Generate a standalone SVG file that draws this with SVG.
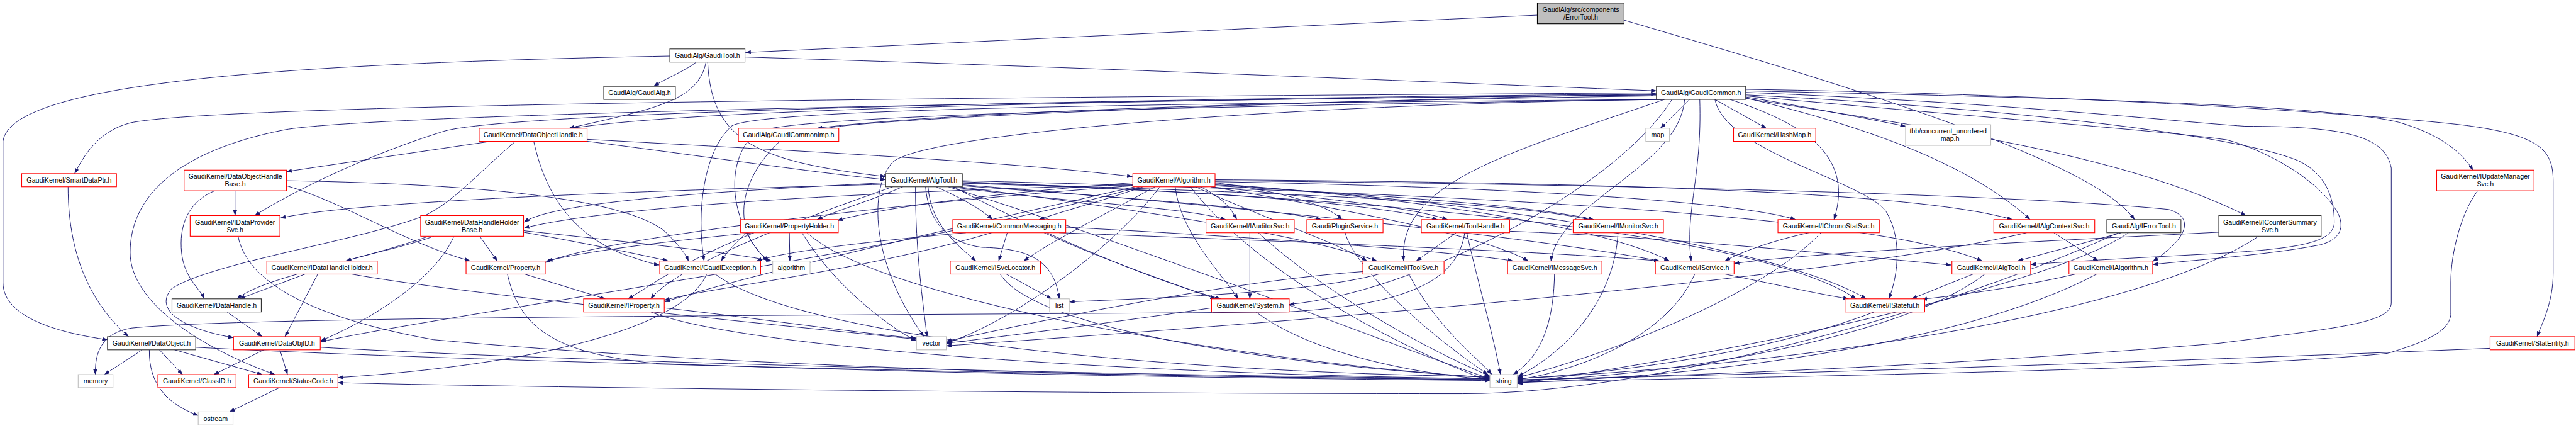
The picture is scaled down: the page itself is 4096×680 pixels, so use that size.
<svg xmlns="http://www.w3.org/2000/svg" width="4096" height="680" viewBox="0 0 4096 680">
<defs>
<marker id="ah" markerUnits="userSpaceOnUse" viewBox="0 0 11 8" refX="10.5" refY="4" markerWidth="11" markerHeight="8" orient="auto"><path d="M0,0L11,4L0,8z" fill="#191970"/></marker>
<style>
.e path{fill:none;stroke:#191970;stroke-width:1.2;marker-end:url(#ah)}
rect{fill:#fff;stroke-width:1.4}
rect.r{stroke:#ff0000}
rect.k{stroke:#333333}
rect.g{stroke:#bfbfbf}
rect.root{fill:#bfbfbf;stroke:#000}
text{font-family:"Liberation Sans",Arial,Helvetica,sans-serif;font-size:13.3px;text-anchor:middle;fill:#000}
</style>
</defs>
<rect x="0" y="0" width="4096" height="680" style="fill:#fff;stroke:none"/>
<g transform="scale(0.802)">
<g id="edges" class="e">
<path d="M3048,30 C2600,50 2000,80 1478,104"/>
<path d="M3220,40 C3700,180 4150,320 4232,435"/>
<path d="M1382,122 C1360,140 1320,155 1296,171"/>
<path d="M1477,113 C2200,135 2900,165 3284,180"/>
<path d="M1400,122 C1385,200 1300,215 1128,254"/>
<path d="M1403,122 C1410,280 1500,320 1756,350"/>
<path d="M1328,111 C600,125 20,160 6,280 L6,560 C6,630 120,660 213,673"/>
<path d="M3350,197 L3292,254"/>
<path d="M3400,197 L3502,254"/>
<path d="M3461,192 C3600,215 3700,235 3778,250"/>
<path d="M3284,190 C2700,198 1900,218 1620,254"/>
<path d="M1640,254 C1750,232 2600,200 3284,186"/>
<path d="M3284,188 C2400,196 1400,212 1135,254"/>
<path d="M3284,184 C2000,192 450,205 260,243 C200,258 170,300 148,344"/>
<path d="M3284,186 C2000,198 1000,225 880,260 C720,310 580,380 505,427"/>
<path d="M3284,188 C2000,200 700,228 560,258 C350,300 258,390 258,500 C258,600 400,690 545,742"/>
<path d="M3290,197 C2300,205 1500,215 1450,250 C1395,300 1380,420 1396,517"/>
<path d="M3295,197 C2400,210 1560,228 1500,262 C1430,320 1450,450 1522,517"/>
<path d="M3300,197 C2600,205 1850,260 1771,320 C1722,370 1725,520 1832,667"/>
<path d="M3461,180 C4000,192 4600,205 4755,242 C4835,265 4880,300 4903,337"/>
<path d="M3461,177 C4200,188 4800,235 4900,250 C5040,270 5062,300 5062,360 L5062,540 C5062,600 5040,640 5030,667"/>
<path d="M3461,195 C3800,250 4200,300 4453,427"/>
<path d="M3461,183 C4000,205 4300,240 4450,250 C4650,250 4730,270 4741,333 L4741,600 C4741,640 4634,650 4400,680 C3800,730 3300,745 3008,753"/>
<path d="M3461,188 C4000,215 4450,270 4560,320 C4610,345 4628,390 4628,440 C4628,480 4560,492 4400,502 C4250,510 4100,518 4026,524"/>
<path d="M3461,190 C3900,230 4300,260 4415,277 C4500,300 4600,360 4634,420 C4650,450 4640,475 4600,485 C4500,505 4350,515 4268,524"/>
<path d="M3430,197 C3560,240 3680,300 3636,435"/>
<path d="M3461,194 C3685,247 3900,320 4025,435"/>
<path d="M3400,197 C3420,300 3700,360 3740,420 C3770,470 3765,540 3745,592"/>
<path d="M3370,197 C3375,350 3340,420 3353,517"/>
<path d="M3340,197 C3330,330 3090,400 3075,517"/>
<path d="M3300,197 C3000,300 2770,360 2783,517"/>
<path d="M3315,197 C3200,380 2800,580 2556,603"/>
<path d="M1547,279 C1460,360 1450,460 1525,517"/>
<path d="M980,279 C850,298 700,320 568,340"/>
<path d="M1157,279 C1400,310 1600,340 1756,356"/>
<path d="M1164,276 C1600,300 2000,320 2245,350"/>
<path d="M1058,279 C1080,380 1130,460 1234,503 C1270,515 1290,522 1307,525"/>
<path d="M1023,279 C940,350 900,400 840,428 C700,480 420,520 340,572 C300,620 380,655 463,669"/>
<path d="M428,377 C370,400 355,450 360,500 C365,550 395,570 405,592"/>
<path d="M466,377 L466,427"/>
<path d="M568,368 C680,400 800,480 932,517"/>
<path d="M568,358 C1000,365 1250,400 1320,460 C1350,490 1360,505 1365,517"/>
<path d="M135,370 C135,520 190,610 255,667"/>
<path d="M1908,358 C2800,380 3700,420 3930,517"/>
<path d="M1908,362 C2500,380 3000,400 3150,435"/>
<path d="M1900,370 C2300,420 2600,470 2730,517"/>
<path d="M1840,370 C1845,440 1890,480 1935,517"/>
<path d="M1908,366 C2600,420 3100,480 3290,517"/>
<path d="M1790,370 C1720,400 1650,420 1620,435"/>
<path d="M1856,370 C1900,390 1940,410 1968,435"/>
<path d="M1756,362 C1400,380 1100,400 1039,440"/>
<path d="M1908,360 C2400,380 2700,400 2850,435"/>
<path d="M1886,370 C2100,400 2350,410 2430,435"/>
<path d="M1908,368 C2200,390 2500,410 2620,435"/>
<path d="M1890,370 C2100,480 2300,560 2420,592"/>
<path d="M1908,363 C2800,390 3500,470 3680,592"/>
<path d="M1770,370 C1600,430 1350,520 1290,592"/>
<path d="M1815,370 C1815,500 1830,600 1838,667"/>
<path d="M1835,370 C1840,430 1870,480 1947,490 C2030,492 2090,510 2100,592"/>
<path d="M1880,370 C2300,500 2800,700 2954,750"/>
<path d="M1756,365 C1200,380 700,400 556,432"/>
<path d="M2409,358 C3200,365 4000,385 4300,415 C4350,430 4340,470 4268,518"/>
<path d="M2400,370 C2700,420 2950,470 3030,517"/>
<path d="M2250,370 C1900,450 1500,540 1318,598"/>
<path d="M2409,364 C2900,400 3200,460 3310,517"/>
<path d="M2409,366 C3000,400 3550,500 3700,592"/>
<path d="M2290,370 C2200,420 2080,480 2030,517"/>
<path d="M2246,362 C2000,380 1750,410 1660,437"/>
<path d="M2330,370 C2340,460 2420,540 2455,592"/>
<path d="M2400,370 C2600,390 2800,410 2870,435"/>
<path d="M2380,370 C2420,390 2440,410 2452,435"/>
<path d="M2409,368 C2800,390 3050,410 3160,435"/>
<path d="M2370,370 C2500,430 2650,480 2710,517"/>
<path d="M2266,370 C2180,400 2100,420 2060,435"/>
<path d="M2246,366 C1700,380 1200,410 1039,452"/>
<path d="M2260,370 C1800,500 900,620 636,677"/>
<path d="M2409,362 C2550,380 2640,410 2660,435"/>
<path d="M2409,360 C3000,370 3450,400 3560,435"/>
<path d="M2409,356 C3200,362 3800,380 3990,435"/>
<path d="M2246,368 C1800,400 1200,470 1081,520"/>
<path d="M2360,370 C2500,550 2800,700 2954,755"/>
<path d="M2300,370 C2200,500 2000,640 1876,680"/>
<path d="M4913,377 C4880,420 4859,500 4859,560 L4859,620 C4859,650 4826,673 4733,700 C4400,735 3300,750 3008,757"/>
<path d="M472,468 C490,560 620,630 860,673 C1600,740 2500,748 2954,752"/>
<path d="M860,468 C800,490 720,505 686,517"/>
<path d="M850,468 C700,520 520,550 470,592"/>
<path d="M900,468 C860,560 720,640 636,675"/>
<path d="M951,468 L986,517"/>
<path d="M1038,460 C1150,480 1250,500 1325,517"/>
<path d="M1038,457 C1250,480 1450,500 1530,517"/>
<path d="M1493,461 C1300,480 1150,500 1085,517"/>
<path d="M1495,461 C1350,520 1300,560 1245,592"/>
<path d="M1565,461 L1566,517"/>
<path d="M1480,461 C1460,480 1440,500 1430,517"/>
<path d="M1600,461 C1750,600 2500,720 2954,748"/>
<path d="M1590,461 C1650,560 1750,640 1817,676"/>
<path d="M1997,461 L1980,517"/>
<path d="M2113,450 C2500,470 2900,500 3000,517"/>
<path d="M2100,461 C2600,480 3100,500 3290,517"/>
<path d="M2070,461 C2200,520 2350,570 2410,592"/>
<path d="M1915,461 C1700,480 1550,500 1500,517"/>
<path d="M1966,461 C1700,540 1400,570 1317,595"/>
<path d="M2478,461 L2478,592"/>
<path d="M2495,461 C2600,560 2800,680 2954,745"/>
<path d="M2667,461 C2682,520 2797,637 2950,742"/>
<path d="M2887,461 L2808,517"/>
<path d="M2993,458 C3300,470 3600,500 3868,525"/>
<path d="M2908,461 C2930,560 2960,660 2975,742"/>
<path d="M2904,461 C2890,560 2780,605 2550,618 C1800,625 500,625 260,650 C200,660 188,700 189,742"/>
<path d="M3208,461 C3200,600 3100,700 3010,745"/>
<path d="M3586,461 C3500,480 3440,505 3420,517"/>
<path d="M3610,461 C3500,580 3200,700 3008,748"/>
<path d="M4072,461 L4160,517"/>
<path d="M4018,461 C3600,560 2400,650 1876,685"/>
<path d="M4206,461 L4000,517"/>
<path d="M4220,461 C4080,560 3500,690 3008,760"/>
<path d="M4200,461 C3900,600 3300,780 2900,780 C2000,780 900,765 670,758"/>
<path d="M4399,460 C4000,480 3600,500 3438,522"/>
<path d="M4478,468 C4250,620 3600,720 3008,750"/>
<path d="M605,543 L475,592"/>
<path d="M630,543 L565,667"/>
<path d="M697,543 C900,580 1500,640 1817,672"/>
<path d="M1040,543 L1200,592"/>
<path d="M1006,543 C1030,650 1100,700 1300,720 C2000,745 2600,750 2954,754"/>
<path d="M1401,543 C1360,640 1100,720 670,748"/>
<path d="M1418,543 C1600,680 2400,740 2954,746"/>
<path d="M1995,543 L2085,592"/>
<path d="M1983,543 C2050,650 2500,720 2954,748"/>
<path d="M2702,538 C2400,560 2000,650 1876,676"/>
<path d="M2793,543 C2850,650 2920,700 2958,742"/>
<path d="M2734,543 C2600,580 2300,590 2120,598"/>
<path d="M3082,543 C3080,650 3050,710 3000,742"/>
<path d="M3360,543 C3300,680 3100,740 3008,752"/>
<path d="M3420,543 C3550,570 3620,585 3665,592"/>
<path d="M3912,543 L3790,592"/>
<path d="M3935,543 C3800,650 3400,740 3008,755"/>
<path d="M4115,543 C4000,570 3880,585 3810,593"/>
<path d="M4157,543 C3900,680 3400,745 3008,758"/>
<path d="M450,618 L520,667"/>
<path d="M1290,618 C1500,700 2400,745 2954,750"/>
<path d="M1317,610 C1500,630 1700,660 1817,670"/>
<path d="M2402,610 C2200,640 2000,665 1876,680"/>
<path d="M2490,618 C2600,700 2800,740 2954,752"/>
<path d="M3716,618 C3500,700 3200,740 3008,750"/>
<path d="M282,693 L207,742"/>
<path d="M316,693 L362,742"/>
<path d="M346,693 L520,742"/>
<path d="M296,693 C295,760 330,800 393,823"/>
<path d="M388,688 C1000,720 2200,745 2954,752"/>
<path d="M523,693 L424,742"/>
<path d="M555,693 L570,742"/>
<path d="M635,688 C1200,720 2300,745 2954,750"/>
<path d="M4937,690 C4200,720 3400,745 3008,752"/>
<path d="M556,767 L455,816"/>
</g>
<g id="n1"><rect class="root" x="3048" y="6" width="172" height="41"/><text x="3134" y="23.7">GaudiAlg/src/components</text><text x="3134" y="38.7">/ErrorTool.h</text></g>
<g id="n2"><rect class="k" x="1328" y="97" width="149" height="26"/><text x="1402.5" y="114.7">GaudiAlg/GaudiTool.h</text></g>
<g id="n3"><rect class="k" x="1197" y="171" width="142" height="26"/><text x="1268" y="188.7">GaudiAlg/GaudiAlg.h</text></g>
<g id="n4"><rect class="k" x="3284" y="171" width="177" height="26"/><text x="3372.5" y="188.7">GaudiAlg/GaudiCommon.h</text></g>
<g id="n5"><rect class="r" x="950" y="254" width="214" height="26"/><text x="1057" y="271.7">GaudiKernel/DataObjectHandle.h</text></g>
<g id="n6"><rect class="r" x="1464" y="254" width="199" height="26"/><text x="1563.5" y="271.7">GaudiAlg/GaudiCommonImp.h</text></g>
<g id="n7"><rect class="g" x="3263" y="254" width="47" height="26"/><text x="3286.5" y="271.7">map</text></g>
<g id="n8"><rect class="r" x="3437" y="254" width="163" height="26"/><text x="3518.5" y="271.7">GaudiKernel/HashMap.h</text></g>
<g id="n9"><rect class="g" x="3778" y="247" width="169" height="41"/><text x="3862.5" y="264.7">tbb/concurrent_unordered</text><text x="3862.5" y="279.7">_map.h</text></g>
<g id="n10"><rect class="r" x="43" y="344" width="188" height="26"/><text x="137" y="361.7">GaudiKernel/SmartDataPtr.h</text></g>
<g id="n11"><rect class="r" x="365" y="337" width="203" height="41"/><text x="466.5" y="354.7">GaudiKernel/DataObjectHandle</text><text x="466.5" y="369.7">Base.h</text></g>
<g id="n12"><rect class="k" x="1756" y="344" width="152" height="26"/><text x="1832" y="361.7">GaudiKernel/AlgTool.h</text></g>
<g id="n13"><rect class="r" x="2246" y="344" width="163" height="26"/><text x="2327.5" y="361.7">GaudiKernel/Algorithm.h</text></g>
<g id="n14"><rect class="r" x="4831" y="337" width="193" height="41"/><text x="4927.5" y="354.7">GaudiKernel/IUpdateManager</text><text x="4927.5" y="369.7">Svc.h</text></g>
<g id="n15"><rect class="r" x="377" y="427" width="178" height="41"/><text x="466" y="444.7">GaudiKernel/IDataProvider</text><text x="466" y="459.7">Svc.h</text></g>
<g id="n16"><rect class="r" x="834" y="427" width="204" height="41"/><text x="936" y="444.7">GaudiKernel/DataHandleHolder</text><text x="936" y="459.7">Base.h</text></g>
<g id="n17"><rect class="r" x="1468" y="435" width="194" height="26"/><text x="1565" y="452.7">GaudiKernel/PropertyHolder.h</text></g>
<g id="n18"><rect class="r" x="1889" y="435" width="224" height="26"/><text x="2001" y="452.7">GaudiKernel/CommonMessaging.h</text></g>
<g id="n19"><rect class="r" x="2391" y="435" width="175" height="26"/><text x="2478.5" y="452.7">GaudiKernel/IAuditorSvc.h</text></g>
<g id="n20"><rect class="r" x="2591" y="435" width="151" height="26"/><text x="2666.5" y="452.7">Gaudi/PluginService.h</text></g>
<g id="n21"><rect class="r" x="2818" y="435" width="175" height="26"/><text x="2905.5" y="452.7">GaudiKernel/ToolHandle.h</text></g>
<g id="n22"><rect class="r" x="3119" y="435" width="179" height="26"/><text x="3208.5" y="452.7">GaudiKernel/IMonitorSvc.h</text></g>
<g id="n23"><rect class="r" x="3525" y="435" width="201" height="26"/><text x="3625.5" y="452.7">GaudiKernel/IChronoStatSvc.h</text></g>
<g id="n24"><rect class="r" x="3953" y="435" width="200" height="26"/><text x="4053" y="452.7">GaudiKernel/IAlgContextSvc.h</text></g>
<g id="n25"><rect class="k" x="4177" y="435" width="147" height="26"/><text x="4250.5" y="452.7">GaudiAlg/IErrorTool.h</text></g>
<g id="n26"><rect class="k" x="4399" y="427" width="203" height="41"/><text x="4500.5" y="444.7">GaudiKernel/ICounterSummary</text><text x="4500.5" y="459.7">Svc.h</text></g>
<g id="n27"><rect class="r" x="529" y="517" width="219" height="26"/><text x="638.5" y="534.7">GaudiKernel/IDataHandleHolder.h</text></g>
<g id="n28"><rect class="r" x="924" y="517" width="157" height="26"/><text x="1002.5" y="534.7">GaudiKernel/Property.h</text></g>
<g id="n29"><rect class="r" x="1308" y="517" width="200" height="26"/><text x="1408" y="534.7">GaudiKernel/GaudiException.h</text></g>
<g id="n30"><rect class="g" x="1532" y="517" width="74" height="26"/><text x="1569" y="534.7">algorithm</text></g>
<g id="n31"><rect class="r" x="1884" y="517" width="179" height="26"/><text x="1973.5" y="534.7">GaudiKernel/ISvcLocator.h</text></g>
<g id="n32"><rect class="r" x="2702" y="517" width="161" height="26"/><text x="2782.5" y="534.7">GaudiKernel/IToolSvc.h</text></g>
<g id="n33"><rect class="r" x="2989" y="517" width="187" height="26"/><text x="3082.5" y="534.7">GaudiKernel/IMessageSvc.h</text></g>
<g id="n34"><rect class="r" x="3282" y="517" width="156" height="26"/><text x="3360" y="534.7">GaudiKernel/IService.h</text></g>
<g id="n35"><rect class="r" x="3870" y="517" width="156" height="26"/><text x="3948" y="534.7">GaudiKernel/IAlgTool.h</text></g>
<g id="n36"><rect class="r" x="4102" y="517" width="166" height="26"/><text x="4185" y="534.7">GaudiKernel/IAlgorithm.h</text></g>
<g id="n37"><rect class="k" x="341" y="592" width="177" height="26"/><text x="429.5" y="609.7">GaudiKernel/DataHandle.h</text></g>
<g id="n38"><rect class="r" x="1157" y="592" width="160" height="26"/><text x="1237" y="609.7">GaudiKernel/IProperty.h</text></g>
<g id="n39"><rect class="g" x="2081" y="592" width="39" height="26"/><text x="2100.5" y="609.7">list</text></g>
<g id="n40"><rect class="r" x="2402" y="592" width="154" height="26"/><text x="2479" y="609.7">GaudiKernel/System.h</text></g>
<g id="n41"><rect class="r" x="3658" y="592" width="158" height="26"/><text x="3737" y="609.7">GaudiKernel/IStateful.h</text></g>
<g id="n42"><rect class="k" x="213" y="667" width="175" height="26"/><text x="300.5" y="684.7">GaudiKernel/DataObject.h</text></g>
<g id="n43"><rect class="r" x="463" y="667" width="172" height="26"/><text x="549" y="684.7">GaudiKernel/DataObjID.h</text></g>
<g id="n44"><rect class="g" x="1817" y="667" width="59" height="26"/><text x="1846.5" y="684.7">vector</text></g>
<g id="n45"><rect class="r" x="4937" y="667" width="168" height="26"/><text x="5021" y="684.7">GaudiKernel/StatEntity.h</text></g>
<g id="n46"><rect class="g" x="155" y="742" width="69" height="26"/><text x="189.5" y="759.7">memory</text></g>
<g id="n47"><rect class="r" x="313" y="742" width="155" height="26"/><text x="390.5" y="759.7">GaudiKernel/ClassID.h</text></g>
<g id="n48"><rect class="r" x="493" y="742" width="177" height="26"/><text x="581.5" y="759.7">GaudiKernel/StatusCode.h</text></g>
<g id="n49"><rect class="g" x="2954" y="742" width="54" height="26"/><text x="2981" y="759.7">string</text></g>
<g id="n50"><rect class="g" x="393" y="816" width="69" height="26"/><text x="427.5" y="833.7">ostream</text></g>
</g>
</svg>
